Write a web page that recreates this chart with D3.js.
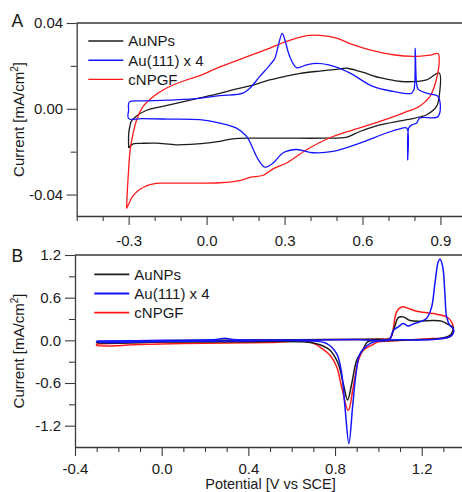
<!DOCTYPE html>
<html>
<head>
<meta charset="utf-8">
<script src="https://cdn.jsdelivr.net/npm/d3@7"></script>
<style>
  html, body { margin: 0; padding: 0; background: #fff; }
  svg { display: block; }
  text { font-family: "Liberation Sans", Arial, sans-serif; fill: #1a1a1a; }
</style>
</head>
<body>
<svg id="chart" width="462" height="492"></svg>
<script>
// ---------- Data (Potential V vs SCE, Current mA/cm2) ----------
const seriesNames = ["AuNPs", "Au(111) x 4", "cNPGF"];
const seriesColors = ["#1c1c1c", "#1515ff", "#ff1a1a"];

// Panel A
const aAuNPs = [
  [-0.300,-0.0183],[-0.300,-0.0120],[-0.296,-0.0085],[-0.290,-0.0059],[-0.272,-0.0036],[-0.233,-0.0008],
  [-0.183,0.0008],[-0.118,0.0025],[-0.030,0.0050],[0.050,0.0072],[0.100,0.0088],[0.170,0.0108],
  [0.230,0.0130],[0.300,0.0150],[0.360,0.0165],[0.435,0.0176],[0.500,0.0184],[0.540,0.0189],
  [0.590,0.0174],[0.667,0.0145],[0.720,0.0132],[0.770,0.0126],[0.847,0.0135],[0.895,0.0167],
  [0.895,0.0057],[0.885,0.0011],[0.847,-0.0028],[0.770,-0.0051],[0.667,-0.0075],[0.590,-0.0106],
  [0.540,-0.0132],[0.450,-0.0137],[0.300,-0.0137],[0.180,-0.0137],[0.100,-0.0140],[0.051,-0.0152],
  [-0.003,-0.0160],[-0.060,-0.0166],[-0.118,-0.0168],[-0.195,-0.0160],[-0.250,-0.0161],[-0.280,-0.0163],
  [-0.295,-0.0175],[-0.300,-0.0183]
];
const aAu111 = [
  [-0.300,-0.0008],[-0.300,0.0025],[-0.295,0.0034],[-0.250,0.0037],[-0.150,0.0040],[-0.050,0.0046],
  [0.051,0.0061],[0.140,0.0073],[0.167,0.0097],[0.205,0.0151],[0.244,0.0205],[0.263,0.0236],
  [0.275,0.0291],[0.291,0.0352],[0.301,0.0322],[0.320,0.0244],[0.346,0.0192],[0.385,0.0205],
  [0.423,0.0212],[0.470,0.0205],[0.520,0.0185],[0.563,0.0159],[0.640,0.0104],[0.717,0.0081],
  [0.788,0.0072],[0.798,0.0090],[0.803,0.0283],[0.808,0.0120],[0.814,0.0092],[0.846,0.0073],
  [0.891,0.0057],
  [0.891,-0.0036],[0.820,-0.0043],[0.808,-0.0067],[0.790,-0.0075],[0.778,-0.0090],[0.774,-0.0238],
  [0.770,-0.0090],[0.740,-0.0095],[0.692,-0.0113],[0.590,-0.0160],[0.486,-0.0199],[0.410,-0.0205],
  [0.346,-0.0190],[0.295,-0.0205],[0.256,-0.0253],[0.224,-0.0272],[0.200,-0.0240],[0.186,-0.0207],
  [0.154,-0.0129],[0.115,-0.0090],[0.051,-0.0067],[-0.026,-0.0051],[-0.150,-0.0048],[-0.250,-0.0046],
  [-0.300,-0.0046],[-0.300,-0.0008]
];
const aCNPGF = [
  [-0.308,-0.0465],[-0.305,-0.0380],[-0.301,-0.0300],[-0.295,-0.0200],[-0.288,-0.0145],[-0.269,-0.0051],
  [-0.244,0.0011],[-0.205,0.0057],[-0.154,0.0097],[-0.077,0.0135],[-0.026,0.0155],[0.051,0.0195],
  [0.141,0.0236],[0.231,0.0277],[0.308,0.0314],[0.385,0.0341],[0.436,0.0342],[0.500,0.0330],
  [0.560,0.0300],[0.628,0.0275],[0.718,0.0252],[0.795,0.0244],[0.860,0.0250],[0.891,0.0257],
  [0.895,0.0213],[0.885,0.0140],[0.872,0.0089],[0.859,0.0057],[0.820,0.0012],[0.756,-0.0020],
  [0.667,-0.0059],[0.564,-0.0098],[0.474,-0.0135],[0.385,-0.0191],[0.308,-0.0253],[0.256,-0.0280],
  [0.218,-0.0310],[0.167,-0.0320],[0.128,-0.0335],[0.051,-0.0345],[-0.026,-0.0347],[-0.118,-0.0347],
  [-0.180,-0.0347],[-0.221,-0.0355],[-0.259,-0.0378],[-0.285,-0.0409],[-0.300,-0.0445],[-0.308,-0.0465]
];

// Panel B
const bAuNPs = [
  [-0.30,-0.02],[-0.10,-0.01],[0.20,0.00],[0.50,0.005],[0.80,0.01],[1.00,0.015],[1.053,0.02],
  [1.065,0.10],[1.077,0.21],[1.092,0.32],[1.115,0.33],[1.146,0.28],[1.192,0.27],[1.254,0.28],
  [1.292,0.27],[1.330,0.21],[1.345,0.18],
  [1.345,0.14],[1.330,0.07],[1.290,0.03],[1.200,0.01],[1.000,-0.005],[0.950,-0.02],[0.931,-0.12],
  [0.900,-0.28],[0.877,-0.61],[0.858,-0.838],[0.838,-0.61],[0.815,-0.33],[0.777,-0.14],[0.745,-0.08],
  [0.715,-0.047],[0.650,-0.02],[0.40,-0.02],[0.00,-0.025],[-0.30,-0.03],[-0.30,-0.02]
];
const bAu111 = [
  [-0.30,-0.01],[0.00,0.00],[0.25,0.01],[0.29,0.03],[0.33,0.01],[0.60,0.005],[0.90,0.01],[1.05,0.015],
  [1.069,0.14],[1.092,0.19],[1.115,0.235],[1.138,0.20],[1.161,0.23],[1.192,0.26],[1.223,0.31],
  [1.246,0.47],[1.261,0.80],[1.276,1.10],[1.284,1.143],[1.297,1.035],[1.307,0.66],[1.315,0.33],
  [1.330,0.21],[1.346,0.165],
  [1.346,0.10],[1.330,0.05],[1.250,0.012],[1.000,-0.005],[0.961,-0.047],[0.915,-0.19],[0.897,-0.47],
  [0.881,-0.94],[0.864,-1.45],[0.846,-0.94],[0.831,-0.47],[0.808,-0.19],[0.762,-0.047],[0.700,-0.01],
  [0.30,-0.01],[0.00,-0.015],[-0.30,-0.02],[-0.30,-0.01]
];
const bCNPGF = [
  [-0.30,-0.05],[-0.10,-0.03],[0.20,-0.01],[0.50,0.00],[0.80,0.01],[1.00,0.02],[1.055,0.03],
  [1.068,0.15],[1.084,0.40],[1.107,0.47],[1.146,0.44],[1.177,0.41],[1.254,0.376],[1.315,0.33],
  [1.338,0.26],[1.345,0.18],
  [1.330,0.05],[1.250,0.025],[1.192,0.014],[1.050,-0.01],[1.000,-0.02],[0.977,-0.056],[0.931,-0.14],
  [0.908,-0.28],[0.884,-0.66],[0.861,-0.988],[0.831,-0.66],[0.808,-0.376],[0.777,-0.21],[0.730,-0.094],
  [0.684,-0.02],[0.50,-0.03],[0.20,-0.04],[-0.10,-0.06],[-0.30,-0.07],[-0.30,-0.05]
];

// Ticks
const xTicksA = [-0.3, 0.0, 0.3, 0.6, 0.9];
const xMinorA = [-0.5,-0.4,-0.2,-0.1,0.1,0.2,0.4,0.5,0.7,0.8];
const yTicksA = [-0.04, 0.00, 0.04];
const yMinorA = [-0.02, 0.02];
const xTicksB = [-0.4, 0.0, 0.4, 0.8, 1.2];
const xMinorB = [-0.3,-0.2,-0.1,0.1,0.2,0.3,0.5,0.6,0.7,0.9,1.0,1.1,1.3];
const yTicksB = [-1.2, -0.6, 0.0, 0.6, 1.2];
const yMinorB = [-0.9, -0.3, 0.3, 0.9];

// ---------- Drawing ----------
const svg = d3.select("#chart");
const W = 462;

const xA = d3.scaleLinear().domain([-0.5, 0.983]).range([76.7, W]);
const yA = d3.scaleLinear().domain([-0.05, 0.04]).range([216, 23]);
const xB = d3.scaleLinear().domain([-0.4, 1.386]).range([75, W]);
const yB = d3.scaleLinear().domain([-1.5, 1.2]).range([447, 255]);

const axisColor = "#3a3a3a";

function drawPanel(cfg) {
  const g = svg.append("g");
  const [x0, x1] = cfg.x.range();
  const [yb, yt] = cfg.y.range();

  // top frame line
  g.append("line").attr("x1", x0).attr("x2", x1).attr("y1", yt).attr("y2", yt)
    .attr("stroke", axisColor).attr("stroke-width", 1.3);

  // curves
  const line = d3.line().x(d => cfg.x(d[0])).y(d => cfg.y(d[1]))
    .curve(d3.curveCatmullRom.alpha(0.5));
  cfg.order.forEach(i => {
    g.append("path").datum(cfg.data[i]).attr("d", line)
      .attr("fill", "none").attr("stroke", seriesColors[i])
      .attr("stroke-width", cfg.lw).attr("stroke-linejoin", "round");
  });

  // bottom axis (major)
  const bx = g.append("g").attr("transform", `translate(0,${yb})`)
    .call(d3.axisBottom(cfg.x).tickValues(cfg.xt).tickSize(9).tickSizeOuter(0)
      .tickPadding(cfg.xpad).tickFormat(d => d.toFixed(1)));
  const bxm = g.append("g").attr("transform", `translate(0,${yb})`)
    .call(d3.axisBottom(cfg.x).tickValues(cfg.xm).tickSize(5).tickFormat(""));
  bxm.select(".domain").remove();

  // left axis
  const ly = g.append("g").attr("transform", `translate(${x0},0)`)
    .call(d3.axisLeft(cfg.y).tickValues(cfg.yt).tickSize(10).tickSizeOuter(0)
      .tickPadding(cfg.ypad).tickFormat(d => d.toFixed(cfg.ydec)));
  const lym = g.append("g").attr("transform", `translate(${x0},0)`)
    .call(d3.axisLeft(cfg.y).tickValues(cfg.ym).tickSize(6).tickFormat(""));
  lym.select(".domain").remove();

  [bx, bxm, ly, lym].forEach(a => {
    a.selectAll("path").attr("stroke", axisColor).attr("stroke-width", 1.3);
    a.selectAll("line").attr("stroke", axisColor).attr("stroke-width", 1.1);
    a.selectAll("text").attr("font-size", 15).attr("fill", "#1a1a1a")
      .attr("font-family", '"Liberation Sans", Arial, sans-serif');
  });

  // panel letter
  g.append("text").attr("x", 11.5).attr("y", cfg.letterY).attr("font-size", 17.5)
    .text(cfg.letter);

  // y label
  const yl = g.append("text")
    .attr("transform", `translate(23.5,${(yb + yt) / 2}) rotate(-90)`)
    .attr("text-anchor", "middle").attr("font-size", 15);
  yl.append("tspan").text("Current [mA/cm");
  yl.append("tspan").attr("font-size", 10).attr("dy", -6).text("2");
  yl.append("tspan").attr("dy", 6).text("]");

  // legend
  seriesNames.forEach((name, i) => {
    const ly0 = cfg.legY + i * cfg.legDy;
    g.append("line").attr("x1", cfg.legX).attr("x2", cfg.legX + 35)
      .attr("y1", ly0).attr("y2", ly0)
      .attr("stroke", seriesColors[i]).attr("stroke-width", cfg.legLw);
    g.append("text").attr("x", cfg.legX + 40).attr("y", ly0 + 5.4)
      .attr("font-size", 15).text(name);
  });
}

drawPanel({
  x: xA, y: yA, data: [aAuNPs, aAu111, aCNPGF], order: [0, 2, 1], lw: 1.3,
  xt: xTicksA, xm: xMinorA, yt: yTicksA, ym: yMinorA, ydec: 2, ypad: 3.5, xpad: 10,
  letter: "A", letterY: 27.3, legX: 88.3, legY: 41, legDy: 19.2, legLw: 1.4
});
drawPanel({
  x: xB, y: yB, data: [bAuNPs, bAu111, bCNPGF], order: [2, 0, 1], lw: 1.5,
  xt: xTicksB, xm: xMinorB, yt: yTicksB, ym: yMinorB, ydec: 1, ypad: 4, xpad: 7.5,
  letter: "B", letterY: 261.7, legX: 94.3, legY: 274.3, legDy: 19.2, legLw: 1.8
});

// x-axis title (bottom)
svg.append("text").attr("x", (xB.range()[0] + xB.range()[1]) / 2 + 2).attr("y", 488.5)
  .attr("text-anchor", "middle").attr("font-size", 14.5).text("Potential [V vs SCE]");
</script>
</body>
</html>
